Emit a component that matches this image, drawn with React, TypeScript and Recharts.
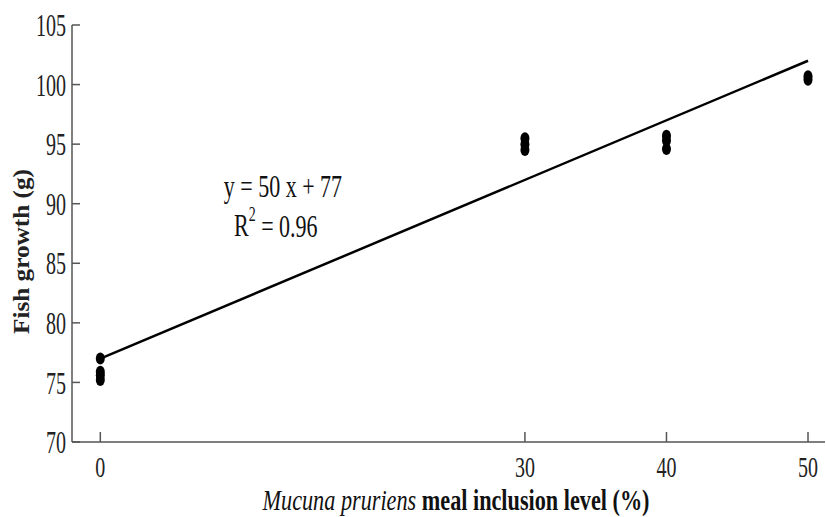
import React from 'react';
import { ScatterChart, Scatter, XAxis, YAxis, ReferenceDot } from 'recharts';

const xTicks = [0, 30, 40, 50];
const yTicks = [70, 75, 80, 85, 90, 95, 100, 105];
const levels = [0, 30, 40, 50];
const growthAt0 = [77.0, 75.9, 75.6, 75.2];
const growthAt30 = [95.5, 95.0, 94.5];
const growthAt40 = [95.7, 95.3, 94.6];
const growthAt50 = [100.7, 100.4];
const fitX = [0, 50];
const fitY = [77, 102];
const eqPos = { x: 12.9, y: 91.5 };
const r2Pos = { x: 12.4, y: 88.2 };

const groups = [growthAt0, growthAt30, growthAt40, growthAt50];
const points = groups.flatMap((vals, i) => vals.map((v) => ({ x: levels[i], y: v })));
const fitLine = fitX.map((x, i) => ({ x, y: fitY[i] }));

const FONT = '"Liberation Serif", "Times New Roman", serif';
const SY = 1.6;
const AXIS = '#555';

const YTick = (props: any) => {
  const { x, y, payload } = props;
  return (
    <g>
      <line x1={x} x2={x + 8} y1={y} y2={y} stroke={AXIS} strokeWidth={1.5} />
      <text
        transform={`translate(${x - 6},${y}) scale(1,${SY})`}
        textAnchor="end"
        dy="0.35em"
        fontSize={20}
        fontFamily={FONT}
        fill="#222"
      >
        {payload.value}
      </text>
    </g>
  );
};

const XTick = (props: any) => {
  const { x, y, payload } = props;
  return (
    <g>
      <line x1={x} x2={x} y1={y} y2={y - 10} stroke={AXIS} strokeWidth={1.5} />
      <text
        transform={`translate(${x},${y + 24}) scale(1,1.5)`}
        textAnchor="middle"
        dy="0.35em"
        fontSize={20}
        fontFamily={FONT}
        fill="#222"
      >
        {payload.value}
      </text>
    </g>
  );
};

const Dot = (props: any) => {
  const { cx, cy } = props;
  return <ellipse cx={cx} cy={cy} rx={4.5} ry={6} fill="#000" />;
};

const NoDot = () => <g />;

const EQ_SY = 1.45;

const EqLabel = (props: any) => {
  const { cx, cy } = props;
  return (
    <text
      transform={`translate(${cx},${cy}) scale(1,${EQ_SY})`}
      textAnchor="middle"
      dy="0.35em"
      fontSize={22}
      fontFamily={FONT}
      fill="#111"
    >
      y = 50 x + 77
    </text>
  );
};

const R2Label = (props: any) => {
  const { cx, cy } = props;
  return (
    <text
      transform={`translate(${cx},${cy}) scale(1,${EQ_SY})`}
      textAnchor="middle"
      dy="0.35em"
      fontSize={22}
      fontFamily={FONT}
      fill="#111"
    >
      R
      <tspan fontSize={14} dy="-0.75em">2</tspan>
      <tspan dy="0.5em"> = 0.96</tspan>
    </text>
  );
};

export default function App() {
  return (
    <div style={{ position: 'absolute', left: 0, top: 0, width: 826, height: 517, background: '#fff' }}>
      <ScatterChart width={826} height={517} margin={{ top: 25, right: 1, bottom: 0, left: 0 }}>
        <XAxis
          type="number"
          dataKey="x"
          domain={[-2, 51.2]}
          ticks={xTicks}
          tick={<XTick />}
          tickLine={false}
          tickSize={0}
          tickMargin={0}
          axisLine={{ stroke: AXIS, strokeWidth: 1.5 }}
          height={75}
          allowDataOverflow
          label={() => (
            <text
              transform={`translate(456,510) scale(1,1.35)`}
              textAnchor="middle"
              fontSize={22}
              fontFamily={FONT}
              fill="#111"
              textLength={387}
              lengthAdjust="spacingAndGlyphs"
            >
              <tspan fontStyle="italic">Mucuna pruriens</tspan>
              <tspan fontWeight="bold"> meal inclusion level (%)</tspan>
            </text>
          )}
        />
        <YAxis
          type="number"
          dataKey="y"
          domain={[70, 105]}
          ticks={yTicks}
          tick={<YTick />}
          tickLine={false}
          tickSize={0}
          tickMargin={0}
          axisLine={{ stroke: AXIS, strokeWidth: 1.5 }}
          width={72}
          allowDataOverflow
          label={(p: any) => {
            const vb = p.viewBox || {};
            const cy = vb.y + vb.height / 2 + 18;
            return (
              <text
                transform={`translate(29,${cy}) rotate(-90)`}
                textAnchor="middle"
                fontSize={24}
                fontWeight="bold"
                fontFamily={FONT}
                fill="#222"
                textLength={165}
                lengthAdjust="spacingAndGlyphs"
              >
                Fish growth (g)
              </text>
            );
          }}
        />
        <Scatter
          data={fitLine}
          line={{ stroke: '#000', strokeWidth: 2.5 }}
          shape={<NoDot />}
          isAnimationActive={false}
        />
        <Scatter data={points} shape={<Dot />} isAnimationActive={false} />
        <ReferenceDot x={eqPos.x} y={eqPos.y} r={0} shape={<EqLabel />} />
        <ReferenceDot x={r2Pos.x} y={r2Pos.y} r={0} shape={<R2Label />} />
      </ScatterChart>
    </div>
  );
}
